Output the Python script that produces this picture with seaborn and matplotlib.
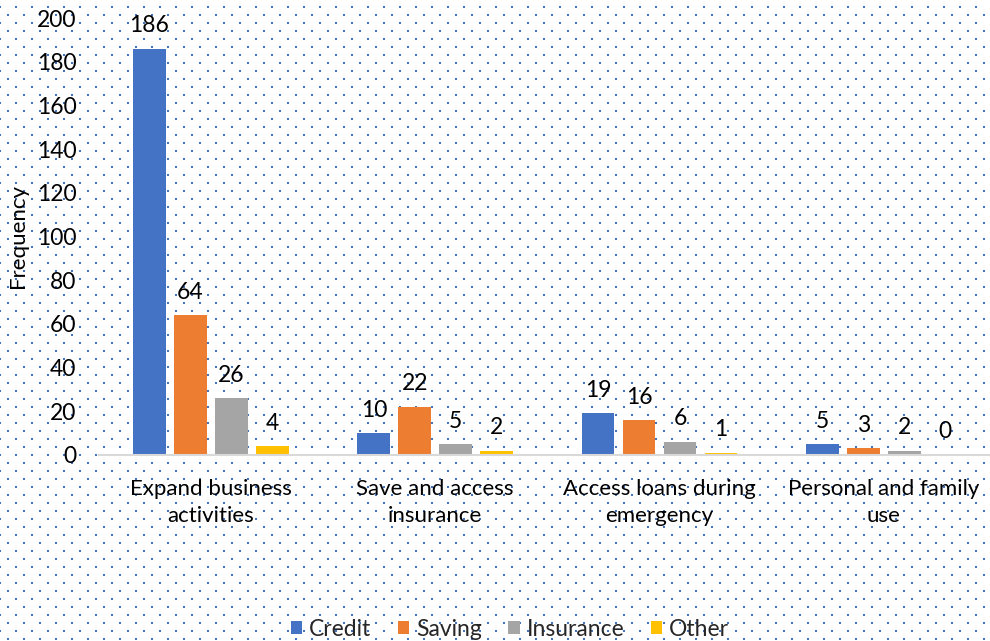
import numpy as np
import pandas as pd
import matplotlib
matplotlib.use("Agg")
import matplotlib.pyplot as plt
import seaborn as sns

# Survey: reasons for using financial services, by service type
purposes = ["Expand business\nactivities", "Save and access\ninsurance",
            "Access loans during\nemergency", "Personal and family\nuse"]
services = ["Credit", "Saving", "Insurance", "Other"]
credit = [186, 10, 19, 5]
saving = [64, 22, 16, 3]
insurance = [26, 5, 6, 2]
other = [4, 2, 1, 0]
y_ticks = [0, 20, 40, 60, 80, 100, 120, 140, 160, 180, 200]

palette = ["#4472C4", "#ED7D31", "#A5A5A5", "#FFC000"]

df = pd.DataFrame({
    "Purpose": purposes * 4,
    "Service": np.repeat(services, len(purposes)),
    "Frequency": credit + saving + insurance + other,
})

sns.set_theme(style="white")
plt.rcParams["font.family"] = ["Lato", "DejaVu Sans"]

W, H = 990, 641
fig = plt.figure(figsize=(W / 100, H / 100), dpi=100)
fig.patch.set_facecolor("white")

# Dotted backdrop covering the whole canvas
bg = fig.add_axes([0, 0, 1, 1], zorder=-1)
bg.set_xlim(0, W)
bg.set_ylim(H, 0)
bg.axis("off")
rows = np.arange(7, H, 8)
xs, ys = [], []
for i, yy in enumerate(rows):
    start = 0 if i % 2 == 0 else 8
    cols = np.arange(start, W + 1, 16)
    xs.extend(cols)
    ys.extend([yy] * len(cols))
bg.scatter(xs, ys, s=2.2, marker="s", color="#4472C4", linewidths=0)

ax = fig.add_axes([0.0998, 0.2902, 0.9062, 0.6817])
ax.patch.set_alpha(0)
sns.barplot(data=df, x="Purpose", y="Frequency", hue="Service",
            palette=palette, saturation=1, width=0.73, gap=0.2, ax=ax,
            edgecolor="none", legend=True)

ax.set_ylim(0, 200)
ax.set_xlim(-0.5, 3.5)
ax.set_yticks(y_ticks)
ax.set_yticklabels([str(t) for t in y_ticks])
ax.tick_params(axis="y", length=0, pad=16, labelsize=16.5, labelcolor="black")
ax.tick_params(axis="x", length=0, pad=17, labelsize=16, labelcolor="black")
for lbl in ax.get_xticklabels():
    lbl.set_linespacing(1.45)
ax.set_xlabel("")
ax.set_ylabel("Frequency", fontsize=16, color="black", labelpad=6)
for s in ["top", "right", "left"]:
    ax.spines[s].set_visible(False)
ax.spines["bottom"].set_color("#D9D9D9")
ax.spines["bottom"].set_linewidth(1.5)

for cont in ax.containers:
    ax.bar_label(cont, fmt="%d", padding=9, fontsize=16.5, color="black")

handles, labels = ax.get_legend_handles_labels()
ax.get_legend().remove()
fig.legend(handles, labels, loc="lower center", bbox_to_anchor=(0.515, -0.03),
           ncol=4, frameon=False, fontsize=16.5, handlelength=0.5,
           handleheight=0.5, handletextpad=0.3, columnspacing=1.15)

fig.savefig("out.png", dpi=100, facecolor="white")
